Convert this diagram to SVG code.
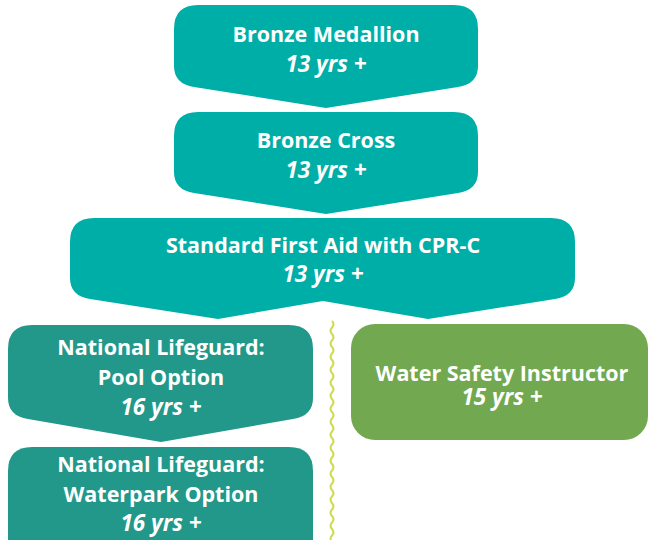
<svg xmlns="http://www.w3.org/2000/svg" width="650" height="540" viewBox="0 0 650 540">
<style>
.t{font-family:"Open Sans","Noto Sans","Liberation Sans",sans-serif;font-weight:700;font-size:21.5px;fill:#fff;text-anchor:middle}
.i{font-style:italic;font-size:22.5px}
.teal{fill:#00aea8}
.dark{fill:#21988a}
.green{fill:#72a84f}
</style>
<rect width="650" height="540" fill="#fff"/>
<g id="connectors">
<path id="wave" fill="none" stroke="#cbdc4c" stroke-width="2" d="M332,321 q3,3.25 0,6.5 t0,6.5 t0,6.5 t0,6.5 t0,6.5 t0,6.5 t0,6.5 t0,6.5 t0,6.5 t0,6.5 t0,6.5 t0,6.5 t0,6.5 t0,6.5 t0,6.5 t0,6.5 t0,6.5 t0,6.5 t0,6.5 t0,6.5 t0,6.5 t0,6.5 t0,6.5 t0,6.5 t0,6.5 t0,6.5 t0,6.5 t0,6.5 t0,6.5 t0,6.5 t0,6.5 t0,6.5 t0,6.5 t0,6.5"/>
</g>
<g id="bronze-medallion">
<path class="teal" d="M198,5 H454 Q478,5 478,29 V66 Q478,84 458,87 L326,108 L194,87 Q174,84 174,66 V29 Q174,5 198,5 Z"/>
<text class="t" x="326" y="42">Bronze Medallion</text>
<text class="t i" x="326" y="72">13 yrs +</text>
</g>
<g id="bronze-cross">
<path class="teal" d="M198,112 H454 Q478,112 478,136 V172 Q478,190 458,193 L326,214 L194,193 Q174,190 174,172 V136 Q174,112 198,112 Z"/>
<text class="t" x="326" y="148">Bronze Cross</text>
<text class="t i" x="326" y="178">13 yrs +</text>
</g>
<g id="standard-first-aid">
<path class="teal" d="M94,218 H551 Q575,218 575,242 V278 Q575,296 555,299 L428,319 L323,301 L218,319 L90,299 Q70,296 70,278 V242 Q70,218 94,218 Z"/>
<text class="t" x="323" y="253">Standard First Aid with CPR-C</text>
<text class="t i" x="323" y="282">13 yrs +</text>
</g>
<g id="pool-option">
<path class="dark" d="M32,325 H289 Q313,325 313,349 V398 Q313,416 293,419 L161,442 L28,419 Q8,416 8,398 V349 Q8,325 32,325 Z"/>
<text class="t" x="161" y="355">National Lifeguard:</text>
<text class="t" x="161" y="385">Pool Option</text>
<text class="t i" x="161" y="415">16 yrs +</text>
</g>
<g id="waterpark-option">
<path class="dark" d="M32,447 H289 Q313,447 313,471 V560 H8 V471 Q8,447 32,447 Z"/>
<text class="t" x="161" y="472">National Lifeguard:</text>
<text class="t" x="161" y="502">Waterpark Option</text>
<text class="t i" x="161" y="531">16 yrs +</text>
</g>
<g id="water-safety-instructor">
<rect class="green" x="351" y="324" width="297" height="116" rx="24" ry="24"/>
<text class="t" x="502" y="381">Water Safety Instructor</text>
<text class="t i" x="502" y="405">15 yrs +</text>
</g>
</svg>
